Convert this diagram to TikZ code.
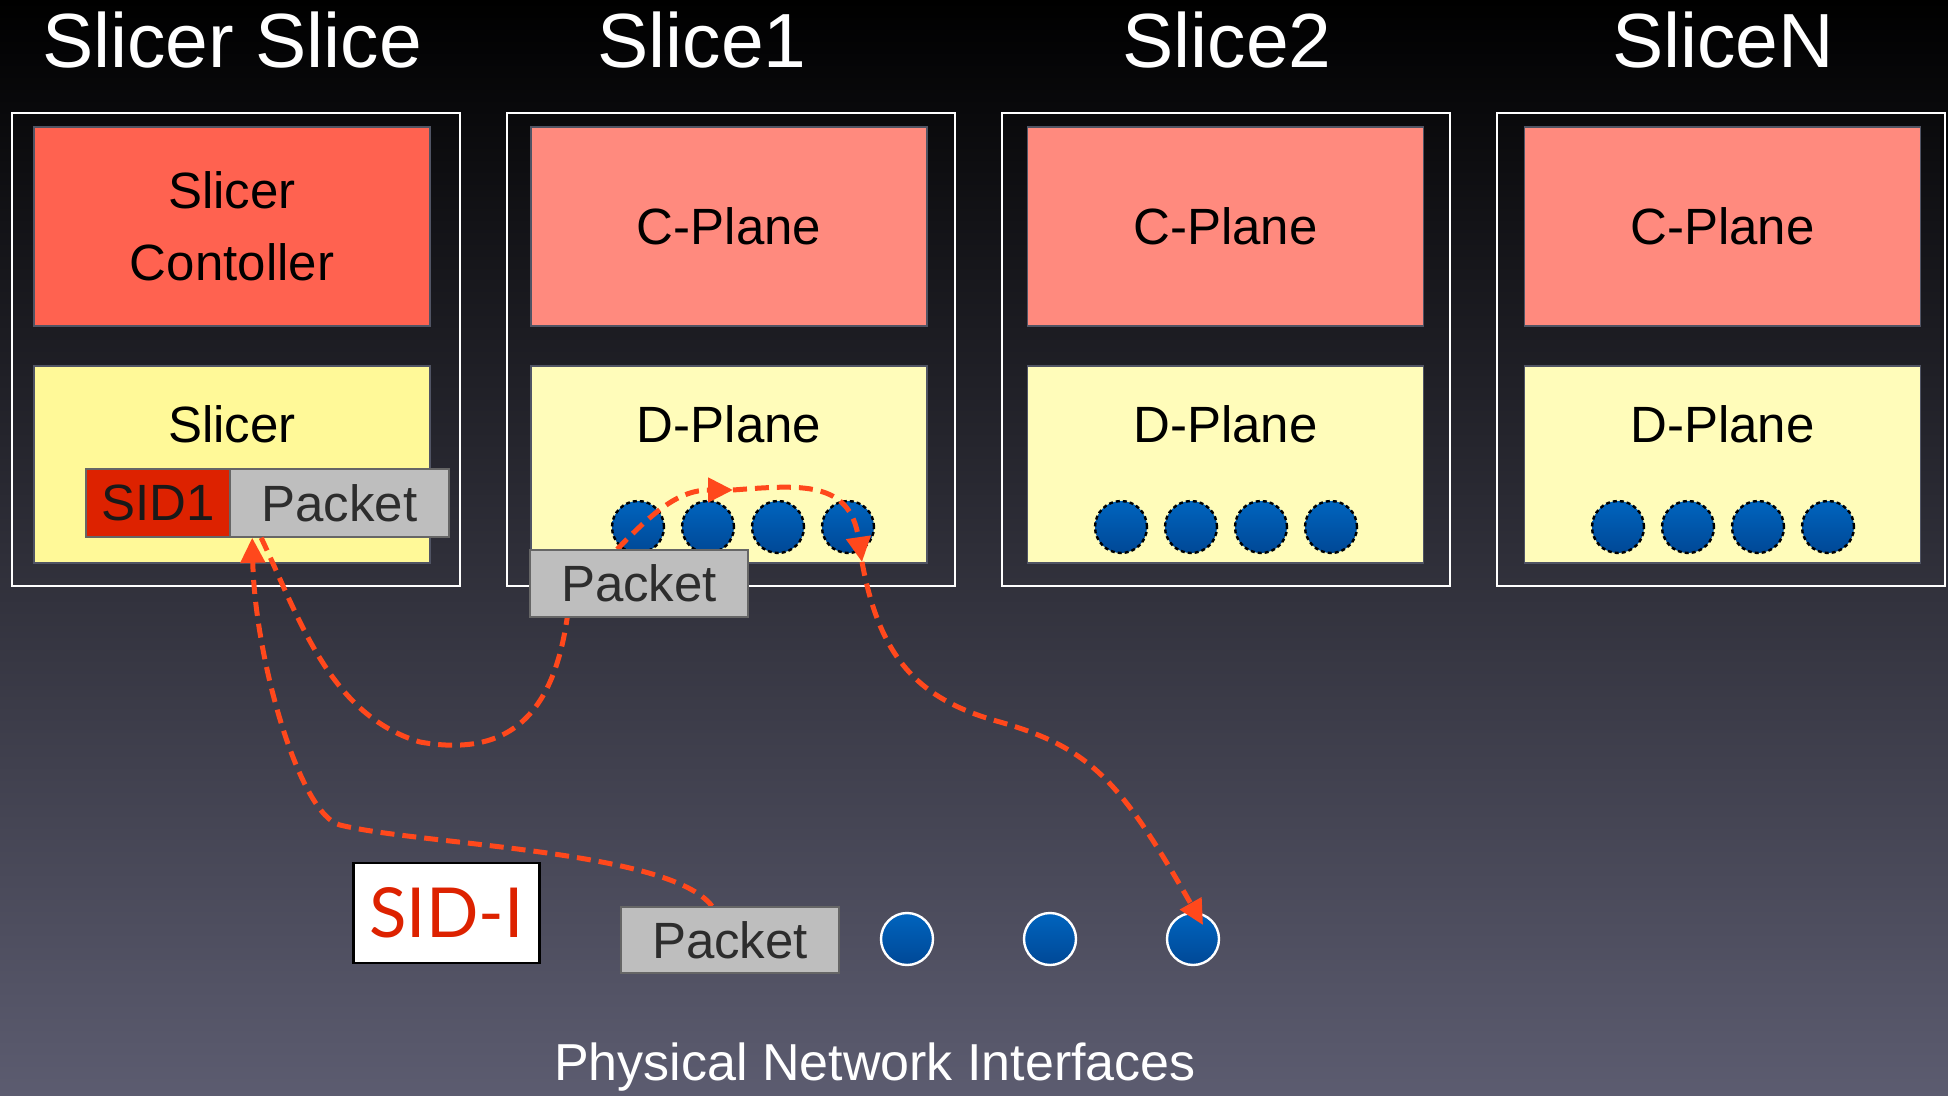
\documentclass[tikz,border=0pt]{standalone}
\usepackage{fontspec}
\setmainfont{Liberation Sans}
\newfontfamily\gillfont{Lato}
\usetikzlibrary{arrows.meta}
\pgfdeclarelayer{toplayer}
\pgfsetlayers{main,toplayer}
\definecolor{ctrlred}{RGB}{255,98,80}
\definecolor{cplane}{RGB}{255,138,126}
\definecolor{slicery}{RGB}{255,249,152}
\definecolor{dplane}{RGB}{255,252,186}
\definecolor{sidred}{RGB}{221,34,0}
\definecolor{pktgray}{RGB}{190,190,190}
\definecolor{pkttext}{RGB}{45,45,45}
\definecolor{flow}{RGB}{255,72,28}
\definecolor{ifbluetop}{RGB}{0,100,190}
\definecolor{ifbluebot}{RGB}{0,72,150}
\definecolor{bgmid}{RGB}{34,34,50}
\definecolor{bgbottom}{RGB}{92,92,112}
\definecolor{edgegray}{RGB}{80,84,100}
\newcommand\mytitlefont{\fontsize{38.4pt}{46pt}\selectfont}
\newcommand\myboxfont{\fontsize{25.5pt}{36pt}\selectfont}
\newcommand\mybotfont{\fontsize{26pt}{30pt}\selectfont}
\newcommand\mysidfont{\gillfont\fontsize{34.5pt}{40pt}\selectfont}
\begin{document}
\begin{tikzpicture}[x=0.5pt,y=-0.5pt,
  titletext/.style={anchor=base, text=white, font=\mytitlefont, inner sep=0pt},
  outerbox/.style={draw=white, line width=0.9pt, minimum width=224pt, minimum height=236.5pt, inner sep=0pt},
  upperbox/.style={draw=edgegray, line width=0.8pt, minimum width=198pt, minimum height=99.5pt, inner sep=0pt, align=center, font=\myboxfont, text=black},
  lowerbox/.style={draw=edgegray, line width=0.8pt, minimum width=198pt, minimum height=98.5pt, inner sep=0pt},
  boxtext/.style={anchor=base, font=\myboxfont, text=black, inner sep=0pt},
  tagbox/.style={draw=gray!80!black, line width=0.8pt, minimum height=34pt, inner sep=0pt, font=\myboxfont},
  dcirc/.style={circle, minimum size=26pt, inner sep=0pt, top color=ifbluetop, bottom color=ifbluebot, draw=black, line width=1.2pt, dash pattern=on 2pt off 1.5pt},
  bcirc/.style={circle, minimum size=26pt, inner sep=0pt, top color=ifbluetop, bottom color=ifbluebot, draw=white, line width=1.2pt},
  flowline/.style={draw=flow, line width=2.5pt, dash pattern=on 7pt off 4pt},
  flowarrow/.style={flowline, -{Triangle[length=12.5pt,width=12pt]}}
]
\useasboundingbox (0,0) rectangle (1948,1096);
\shade[top color=black, middle color=bgmid, bottom color=bgbottom] (0,0) rectangle (1948,1096);

% titles
\node[titletext] (t0) at (232,68) {Slicer Slice};
\node[titletext] (t1) at (702,68) {Slice1};
\node[titletext] (t2) at (1227,68) {Slice2};
\node[titletext] (t3) at (1723,68) {SliceN};

% slice frames
\node[outerbox] (s0) at (236,349.5) {};
\node[outerbox] (s1) at (731,349.5) {};
\node[outerbox] (s2) at (1226,349.5) {};
\node[outerbox] (s3) at (1721,349.5) {};

% upper boxes
\node[upperbox, fill=ctrlred] (ctrl) at (232,226.5) {Slicer\\Contoller};
\node[upperbox, fill=cplane] (cp1) at (729,226.5) {C-Plane};
\node[upperbox, fill=cplane] (cp2) at (1225.5,226.5) {C-Plane};
\node[upperbox, fill=cplane] (cp3) at (1722.5,226.5) {C-Plane};

% lower boxes
\node[lowerbox, fill=slicery] (slicer) at (232,464.5) {};
\node[lowerbox, fill=dplane] (dp1) at (729,464.5) {};
\node[lowerbox, fill=dplane] (dp2) at (1225.5,464.5) {};
\node[lowerbox, fill=dplane] (dp3) at (1722.5,464.5) {};
\node[boxtext] (slicerlbl) at (232,443) {Slicer};
\node[boxtext] (dp1lbl) at (729,443) {D-Plane};
\node[boxtext] (dp2lbl) at (1225.5,443) {D-Plane};
\node[boxtext] (dp3lbl) at (1722.5,443) {D-Plane};

% virtual interfaces
\node[dcirc] (d11) at (638,527) {};
\node[dcirc] (d12) at (708,527) {};
\node[dcirc] (d13) at (778,527) {};
\node[dcirc] (d14) at (848,527) {};
\node[dcirc] (d21) at (1121,527) {};
\node[dcirc] (d22) at (1191,527) {};
\node[dcirc] (d23) at (1261,527) {};
\node[dcirc] (d24) at (1331,527) {};
\node[dcirc] (d31) at (1618,527) {};
\node[dcirc] (d32) at (1688,527) {};
\node[dcirc] (d33) at (1758,527) {};
\node[dcirc] (d34) at (1828,527) {};

% tagged packet in slicer
\node[tagbox, fill=sidred, minimum width=72pt, text=black!90] (sid) at (158,503) {SID1};
\node[tagbox, fill=pktgray, minimum width=109.5pt, text=pkttext] (spk) at (339.5,503) {Packet};

% physical interfaces
\node[bcirc] (b1) at (907,939) {};
\node[bcirc] (b2) at (1050,939) {};
\node[bcirc] (b3) at (1193,939) {};

\node[draw=black, line width=1.2pt, fill=white, minimum width=93pt, minimum height=50pt, inner sep=0pt, text=sidred, font=\mysidfont] (sidlbl) at (446.5,913) {SID-I};

\node[anchor=base, font=\mybotfont, text=white, inner sep=0pt] (phys) at (875,1080) {Physical Network Interfaces};

% packets on top layer
\begin{pgfonlayer}{toplayer}
\node[tagbox, fill=pktgray, minimum width=109pt, minimum height=33.5pt, text=pkttext] (sp1) at (639,583.5) {Packet};
\node[tagbox, fill=pktgray, minimum width=109pt, minimum height=33pt, text=pkttext] (bp) at (730,940) {Packet};
\end{pgfonlayer}

% packet flow
\coordinate (c1) at (733,490);
\coordinate (c2) at (862,562);
\draw[flowarrow] ([xshift=-9pt]bp.north) .. controls (670,850) and (420,845) .. (340,825) .. controls (300,815) and (255,660) .. ([xshift=11.5pt]spk.south west);
\draw[flowline] ([xshift=16pt]spk.south west) .. controls (300,620) and (330,715) .. (420,742) .. controls (520,760) and (555,700) .. ([xshift=19pt]sp1.south west);
\draw[flowarrow] ([xshift=44pt]sp1.north west) .. controls (655,510) and (680,490) .. (c1);
\draw[flowarrow] (c1) .. controls (800,485) and (850,480) .. (c2);
\draw[flowarrow] (c2) .. controls (880,660) and (920,700) .. (1000,722) .. controls (1090,748) and (1120,780) .. ([shift={(5pt,7pt)}]b3.center);
\end{tikzpicture}
\end{document}
